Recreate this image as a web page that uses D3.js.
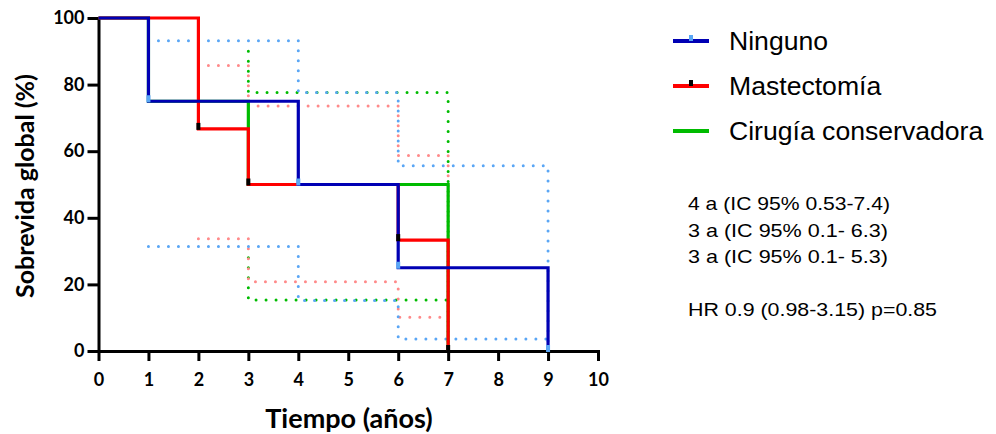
<!DOCTYPE html>
<html>
<head>
<meta charset="utf-8">
<script src="https://d3js.org/d3.v7.min.js"></script>
<style>
  body { margin: 0; background: #fff; }
  .axis path, .axis line { stroke: #000; stroke-width: 3; }
  .axis text { font-family: Lato, "Open Sans", sans-serif; font-weight: 700; font-size: 18px; fill: #000; }
</style>
</head>
<body>
<svg id="chart" width="996" height="434"></svg>
<script>
// survival steps (years, %)
var ningunoT = [0, 1, 4, 6, 9];
var ningunoS = [100, 75, 50, 25, 0];
var mastT = [0, 2, 3, 6, 7];
var mastS = [100, 66.7, 50, 33.3, 0];
var cirugiaT = [0, 1, 3, 7];
var cirugiaS = [100, 75, 50, 0];

// 95% CI bands (dotted)
var ningunoUpT = [1, 4, 6, 9];
var ningunoUpS = [93.2, 77.6, 55.6, 0];
var ningunoLoT = [1, 4, 6, 9];
var ningunoLoS = [31.4, 15.2, 3.6, 3.6];
var mastUpT = [2, 3, 6, 7];
var mastUpS = [85.7, 73.6, 58.7, 0];
var mastLoT = [2, 3, 6, 7];
var mastLoS = [33.7, 20.8, 10.1, 10.1];
var cirugiaUpT = [3, 3, 7];
var cirugiaUpS = [90, 77.6, 0];
var cirugiaLoT = [3, 3, 7];
var cirugiaLoS = [28, 15.3, 15.3];

// censored marks
var ningunoCensT = [1, 4, 6, 9];
var ningunoCensS = [75, 50, 25, 0];
var mastCensT = [2, 3, 6, 7];
var mastCensS = [66.7, 50, 33.3, 0];

var xTicks = [0, 1, 2, 3, 4, 5, 6, 7, 8, 9, 10];
var yTicks = [0, 20, 40, 60, 80, 100];
var legendNames = ["Ninguno", "Mastectomía", "Cirugía conservadora"];
var notes = ["4 a (IC 95% 0.53-7.4)", "3 a (IC 95% 0.1- 6.3)", "3 a (IC 95% 0.1- 5.3)", "", "HR 0.9 (0.98-3.15) p=0.85"];
var noteWidths = [202, 200, 200, 0, 249];

var blue = "#0000b4", red = "#ff0000", green = "#00bb00";
var lblue = "#5aa6f5", lred = "#ff8a8a", lgreen = "#00bb00";

var svg = d3.select("#chart");
var x = d3.scaleLinear().domain([0, 10]).range([98.5, 598]);
var y = d3.scaleLinear().domain([0, 100]).range([351, 18]);

var line = d3.line().x(function(d) { return x(d[0]); }).y(function(d) { return y(d[1]); }).curve(d3.curveStepAfter);
function pts(t, s) { return t.map(function(v, i) { return [v, s[i]]; }); }

// dotted CIs
var ci = [
  [cirugiaUpT, cirugiaUpS, lgreen], [cirugiaLoT, cirugiaLoS, lgreen],
  [mastUpT, mastUpS, lred], [mastLoT, mastLoS, lred],
  [ningunoUpT, ningunoUpS, lblue], [ningunoLoT, ningunoLoS, lblue]
];
ci.forEach(function(c) {
  svg.append("path").attr("d", line(pts(c[0], c[1])))
    .attr("fill", "none").attr("stroke", c[2]).attr("stroke-width", 3)
    .attr("stroke-linecap", "round").attr("stroke-dasharray", "0 10");
});

// axes
svg.append("g").attr("class", "axis").attr("transform", "translate(0,351)")
  .call(d3.axisBottom(x).tickValues(xTicks).tickSize(10).tickSizeOuter(0).tickPadding(12));
svg.append("g").attr("class", "axis").attr("transform", "translate(98.5,0)")
  .call(d3.axisLeft(y).tickValues(yTicks).tickSize(11).tickSizeOuter(0).tickPadding(3));
svg.selectAll(".axis .domain").attr("stroke-linecap", "square");

// survival lines
[[cirugiaT, cirugiaS, green], [mastT, mastS, red], [ningunoT, ningunoS, blue]].forEach(function(c) {
  svg.append("path").attr("d", line(pts(c[0], c[1])))
    .attr("fill", "none").attr("stroke", c[2]).attr("stroke-width", 3.2);
});

// censor ticks
function cens(t, s, col) {
  svg.append("g").selectAll("rect").data(pts(t, s)).enter().append("rect")
    .attr("x", function(d) { return x(d[0]) - 2; })
    .attr("y", function(d) { return y(d[1]) - 6; })
    .attr("width", 4).attr("height", 7).attr("fill", col);
}
cens(mastCensT, mastCensS, "#000");
cens(ningunoCensT, ningunoCensS, lblue);

// axis titles
svg.append("text").attr("x", 349).attr("y", 428).attr("text-anchor", "middle")
  .style("font-family", "Lato, 'Open Sans', sans-serif").style("font-weight", 700).style("font-size", "27px")
  .text("Tiempo (años)");
svg.append("text").attr("transform", "translate(34,186) rotate(-90)").attr("text-anchor", "middle")
  .style("font-family", "Lato, 'Open Sans', sans-serif").style("font-weight", 700).style("font-size", "25px")
  .text("Sobrevida global (%)");

// legend
var legCols = [blue, red, green];
var legY = [41, 86, 131];
legendNames.forEach(function(n, i) {
  svg.append("line").attr("x1", 673).attr("x2", 709).attr("y1", legY[i]).attr("y2", legY[i])
    .attr("stroke", legCols[i]).attr("stroke-width", 4);
  svg.append("text").attr("x", 729).attr("y", legY[i] + 9)
    .style("font-family", "'Liberation Sans', Arial, sans-serif").style("font-size", "26.6px").text(n);
});
svg.append("rect").attr("x", 689).attr("y", 35).attr("width", 4).attr("height", 6).attr("fill", lblue);
svg.append("rect").attr("x", 689).attr("y", 80).attr("width", 4).attr("height", 6).attr("fill", "#000");

// annotations
notes.forEach(function(n, i) {
  if (!n) return;
  svg.append("text").attr("x", 688).attr("y", 210 + i * 26.5)
    .attr("textLength", noteWidths[i]).attr("lengthAdjust", "spacingAndGlyphs")
    .style("font-family", "'Liberation Sans', Arial, sans-serif").style("font-size", "18.5px").text(n);
});
</script>
</body>
</html>
